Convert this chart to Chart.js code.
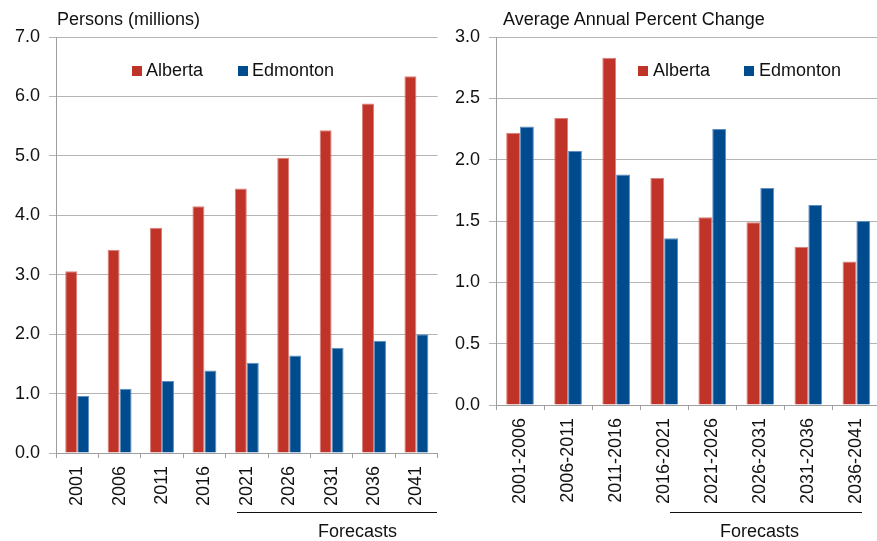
<!DOCTYPE html>
<html lang="en">
<head>
<meta charset="UTF-8">
<title>Alberta and Edmonton Population</title>
<script src="https://cdn.jsdelivr.net/npm/chart.js"></script>
<style>
body { margin: 0; background: #fff; font-family: "Liberation Sans", Arial, sans-serif; color: #111; }
#page { position: relative; width: 877px; height: 541px; overflow: hidden; }
.panel { position: absolute; top: 0; height: 541px; overflow: hidden; }
.txt { position: absolute; font-size: 18px; line-height: 18px; white-space: nowrap; }
.key { position: absolute; width: 10px; height: 10px; }
.rule { position: absolute; height: 0; border-top: 1.4px solid #111; }
</style>
</head>
<body>
<div id="page">
  <div class="panel" style="left:0; width:446px;"><canvas id="popChart" width="446" height="541"></canvas></div>
  <div class="panel" style="left:440px; width:437px;"><canvas id="changeChart" width="446" height="541"></canvas></div>

  <div class="txt" style="left:57px; top:10px;">Persons (millions)</div>
  <div class="txt" style="left:503px; top:10px;">Average Annual Percent Change</div>

  <div id="legendPop"></div>
  <div id="legendChange"></div>

  <div class="rule" style="left:237px; width:200px; top:512px;"></div>
  <div class="txt" style="left:318px; top:522px;">Forecasts</div>
  <div class="rule" style="left:670px; width:192px; top:512px;"></div>
  <div class="txt" style="left:720px; top:522px;">Forecasts</div>
</div>

<script>
// population, millions
const years = ['2001', '2006', '2011', '2016', '2021', '2026', '2031', '2036', '2041'];
const albertaPop = [3.06, 3.42, 3.79, 4.15, 4.45, 4.97, 5.43, 5.88, 6.34];
const edmontonPop = [0.96, 1.08, 1.21, 1.39, 1.52, 1.64, 1.77, 1.89, 2.00];

// average annual % change per 5-year period
const periods = ['2001-2006', '2006-2011', '2011-2016', '2016-2021', '2021-2026', '2026-2031', '2031-2036', '2036-2041'];
const albertaChange = [2.22, 2.34, 2.83, 1.85, 1.53, 1.49, 1.29, 1.17];
const edmontonChange = [2.27, 2.07, 1.88, 1.36, 2.25, 1.77, 1.63, 1.50];

const seriesNames = ['Alberta', 'Edmonton'];
const seriesColors = ['#BF3328', '#004B8E'];
const seriesEdges = ['#DA8079', '#5F8FC0'];

const FONT = { family: '"Liberation Sans", Arial, sans-serif', size: 18 };
const GRID = '#B4B4B4';
const AXIS = '#9E9E9E';

function makeChart(id, labels, seriesData, yMax, yStep, xHeight, catPct) {
  const ctx = document.getElementById(id).getContext('2d');
  return new Chart(ctx, {
    type: 'bar',
    data: {
      labels: labels,
      datasets: seriesData.map((d, i) => ({
        label: seriesNames[i],
        data: d,
        backgroundColor: seriesColors[i],
        borderColor: seriesEdges[i],
        borderWidth: 1,
        categoryPercentage: catPct,
        barPercentage: 1.0
      }))
    },
    options: {
      responsive: false,
      animation: false,
      layout: { padding: { top: 37, left: 0, right: 0, bottom: 0 } },
      plugins: { legend: { display: false }, tooltip: { enabled: false } },
      scales: {
        x: {
          grid: { offset: true, drawOnChartArea: false, drawTicks: true, tickLength: 5, color: AXIS },
          border: { display: true, color: AXIS },
          ticks: { minRotation: 90, maxRotation: 90, autoSkip: false, padding: 8, color: '#111', font: FONT },
          afterFit: s => { s.height = xHeight; }
        },
        y: {
          min: 0,
          max: yMax,
          grid: { color: GRID, tickLength: 7, drawTicks: true },
          border: { display: true, color: AXIS },
          ticks: { stepSize: yStep, padding: 9, color: '#111', font: FONT, callback: v => v.toFixed(1) },
          afterFit: s => { s.width = 56; }
        }
      }
    }
  });
}

// html legend, keyed by the same series names and colors
function makeLegend(id, positions, top) {
  const box = document.getElementById(id);
  seriesNames.forEach((name, i) => {
    const sq = document.createElement('div');
    sq.className = 'key';
    sq.style.left = positions[i][0] + 'px';
    sq.style.top = (top + 5) + 'px';
    sq.style.background = seriesColors[i];
    box.appendChild(sq);
    const t = document.createElement('div');
    t.className = 'txt';
    t.style.left = positions[i][1] + 'px';
    t.style.top = top + 'px';
    t.textContent = name;
    box.appendChild(t);
  });
}

makeChart('popChart', years, [albertaPop, edmontonPop], 7, 1, 88, 0.565);
makeChart('changeChart', periods, [albertaChange, edmontonChange], 3, 0.5, 136, 0.576);

makeLegend('legendPop', [[132, 146], [238, 252]], 61);
makeLegend('legendChange', [[638, 653], [744, 759]], 61);
</script>
</body>
</html>
